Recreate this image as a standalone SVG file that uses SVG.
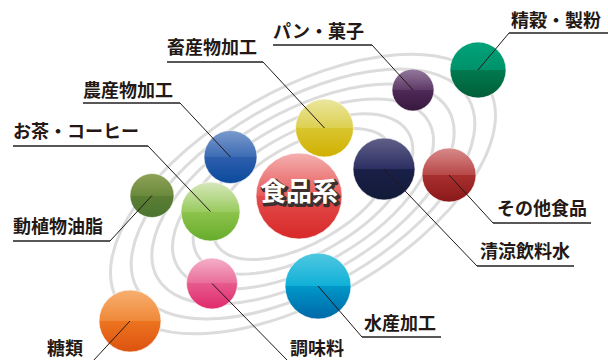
<svg xmlns="http://www.w3.org/2000/svg" width="608" height="360" viewBox="0 0 608 360">
<defs>
<style>
.orb{fill:none;stroke:#dcdcdc;stroke-width:3}
.lbl{font-family:"Noto Sans CJK JP","Noto Sans",sans-serif;font-size:18px;font-weight:700;fill:#231815}
.ul{fill:none;stroke:#595757;stroke-width:2}
.ld{fill:none;stroke:#231815;stroke-width:1}
.ball{stroke:#ffffff;stroke-width:1;stroke-opacity:0.6}
.ctr{font-family:"Noto Sans CJK JP","Noto Sans",sans-serif;font-size:26px;font-weight:700}
</style>
<linearGradient id="gRed" x1="0" y1="0" x2="0" y2="1"><stop offset="0" stop-color="#f4b0b0"/><stop offset="0.5" stop-color="#e85a5a"/><stop offset="0.5" stop-color="#e34c4c"/><stop offset="1" stop-color="#d82828"/></linearGradient>
<linearGradient id="gBlue" x1="0" y1="0" x2="0" y2="1"><stop offset="0" stop-color="#7c9acc"/><stop offset="0.5" stop-color="#3d6cb5"/><stop offset="0.5" stop-color="#2e5ead"/><stop offset="1" stop-color="#0a4a9c"/></linearGradient>
<linearGradient id="gYel" x1="0" y1="0" x2="0" y2="1"><stop offset="0" stop-color="#ebe6a0"/><stop offset="0.5" stop-color="#ddd050"/><stop offset="0.5" stop-color="#d8c630"/><stop offset="1" stop-color="#d1b000"/></linearGradient>
<linearGradient id="gNavy" x1="0" y1="0" x2="0" y2="1"><stop offset="0" stop-color="#606088"/><stop offset="0.5" stop-color="#2c2f62"/><stop offset="0.5" stop-color="#1a2048"/><stop offset="1" stop-color="#121a38"/></linearGradient>
<linearGradient id="gDred" x1="0" y1="0" x2="0" y2="1"><stop offset="0" stop-color="#d88a8a"/><stop offset="0.5" stop-color="#b84848"/><stop offset="0.5" stop-color="#a83030"/><stop offset="1" stop-color="#8a1818"/></linearGradient>
<linearGradient id="gPur" x1="0" y1="0" x2="0" y2="1"><stop offset="0" stop-color="#957a9c"/><stop offset="0.5" stop-color="#5e3a68"/><stop offset="0.5" stop-color="#4e2a58"/><stop offset="1" stop-color="#38183e"/></linearGradient>
<linearGradient id="gGrn" x1="0" y1="0" x2="0" y2="1"><stop offset="0" stop-color="#00a27a"/><stop offset="0.5" stop-color="#00926a"/><stop offset="0.5" stop-color="#007a50"/><stop offset="1" stop-color="#005e38"/></linearGradient>
<linearGradient id="gLgrn" x1="0" y1="0" x2="0" y2="1"><stop offset="0" stop-color="#d6e8bc"/><stop offset="0.5" stop-color="#9acb60"/><stop offset="0.5" stop-color="#8ec44c"/><stop offset="1" stop-color="#66ac2c"/></linearGradient>
<linearGradient id="gOlv" x1="0" y1="0" x2="0" y2="1"><stop offset="0" stop-color="#8ea258"/><stop offset="0.5" stop-color="#6b8a3c"/><stop offset="0.5" stop-color="#5b7e34"/><stop offset="1" stop-color="#4c7430"/></linearGradient>
<linearGradient id="gPink" x1="0" y1="0" x2="0" y2="1"><stop offset="0" stop-color="#f4b0c8"/><stop offset="0.5" stop-color="#ea6c9a"/><stop offset="0.5" stop-color="#e65a8c"/><stop offset="1" stop-color="#e02a6c"/></linearGradient>
<linearGradient id="gCyan" x1="0" y1="0" x2="0" y2="1"><stop offset="0" stop-color="#50c8e0"/><stop offset="0.5" stop-color="#10b0d8"/><stop offset="0.5" stop-color="#0098c8"/><stop offset="1" stop-color="#0068a8"/></linearGradient>
<linearGradient id="gOrg" x1="0" y1="0" x2="0" y2="1"><stop offset="0" stop-color="#f6b070"/><stop offset="0.5" stop-color="#f08838"/><stop offset="0.5" stop-color="#ec7420"/><stop offset="1" stop-color="#dc5210"/></linearGradient>
</defs>
<rect width="608" height="360" fill="#ffffff"/>
<g id="orbits" transform="translate(303 194) rotate(-30)">
<ellipse class="orb" rx="214" ry="104"/>
<ellipse class="orb" rx="191" ry="93"/>
<ellipse class="orb" rx="168" ry="82"/>
<ellipse class="orb" rx="145" ry="71"/>
<ellipse class="orb" rx="122" ry="60"/>
<ellipse class="orb" rx="100" ry="49"/>
</g>
<g id="n-center"><circle class="ball" cx="299" cy="196" r="43" fill="url(#gRed)"/>
<text class="ctr" x="300.5" y="202.5" text-anchor="middle" fill="#3a3030" stroke="#3a3030" stroke-width="3" stroke-linejoin="round">食品系</text>
<text class="ctr" x="299" y="201" text-anchor="middle" fill="#ffffff">食品系</text></g>
<g id="n-nousan"><circle class="ball" cx="230.5" cy="157" r="26.5" fill="url(#gBlue)"/></g>
<g id="n-chikusan"><circle class="ball" cx="324.5" cy="128" r="29" fill="url(#gYel)"/></g>
<g id="n-seiryo"><circle class="ball" cx="384" cy="169" r="31" fill="url(#gNavy)"/></g>
<g id="n-sonota"><circle class="ball" cx="449" cy="175" r="27" fill="url(#gDred)"/></g>
<g id="n-pan"><circle class="ball" cx="413" cy="90" r="21" fill="url(#gPur)"/></g>
<g id="n-seikoku"><circle class="ball" cx="478" cy="70" r="28" fill="url(#gGrn)"/></g>
<g id="n-ocha"><circle class="ball" cx="210.5" cy="211.5" r="29.5" fill="url(#gLgrn)"/></g>
<g id="n-yushi"><circle class="ball" cx="152" cy="195.5" r="22" fill="url(#gOlv)"/></g>
<g id="n-chomi"><circle class="ball" cx="212" cy="283.5" r="25.5" fill="url(#gPink)"/></g>
<g id="n-suisan"><circle class="ball" cx="318" cy="286" r="33" fill="url(#gCyan)"/></g>
<g id="n-toui"><circle class="ball" cx="130" cy="321" r="31" fill="url(#gOrg)"/></g>
<g id="connectors">
<polyline class="ul" points="167,62 263,62"/><line class="ld" x1="263" y1="62" x2="324.5" y2="128"/>
<polyline class="ul" points="83,103 180,103"/><line class="ld" x1="180" y1="103" x2="230.5" y2="157"/>
<polyline class="ul" points="13,146 148,146"/><line class="ld" x1="148" y1="146" x2="210.5" y2="211.5"/>
<polyline class="ul" points="273,45 372,45"/><line class="ld" x1="372" y1="45" x2="413" y2="90"/>
<polyline class="ul" points="509,33 608,33"/><line class="ld" x1="509" y1="33" x2="478" y2="70"/>
<polyline class="ul" points="13,241 110,241"/><line class="ld" x1="110" y1="241" x2="152" y2="195.5"/>
<line class="ld" x1="93" y1="361" x2="130" y2="321"/>
<line class="ld" x1="288" y1="361" x2="212" y2="283.5"/>
<polyline class="ul" points="362,337 441,337"/><line class="ld" x1="362" y1="337" x2="318" y2="286"/>
<polyline class="ul" points="477,266 574,266"/><line class="ld" x1="477" y1="266" x2="384" y2="169"/>
<polyline class="ul" points="493,223 591,223"/><line class="ld" x1="493" y1="223" x2="449" y2="175"/>
</g>
<g id="labels">
<text class="lbl" x="167" y="54">畜産物加工</text>
<text class="lbl" x="83" y="97">農産物加工</text>
<text class="lbl" x="13" y="138">お茶・コーヒー</text>
<text class="lbl" x="273" y="38">パン・菓子</text>
<text class="lbl" x="511" y="27">精穀・製粉</text>
<text class="lbl" x="13" y="233">動植物油脂</text>
<text class="lbl" x="47" y="355">糖類</text>
<text class="lbl" x="290" y="355">調味料</text>
<text class="lbl" x="364" y="330">水産加工</text>
<text class="lbl" x="480" y="258">清涼飲料水</text>
<text class="lbl" x="497" y="215">その他食品</text>
</g>
</svg>
